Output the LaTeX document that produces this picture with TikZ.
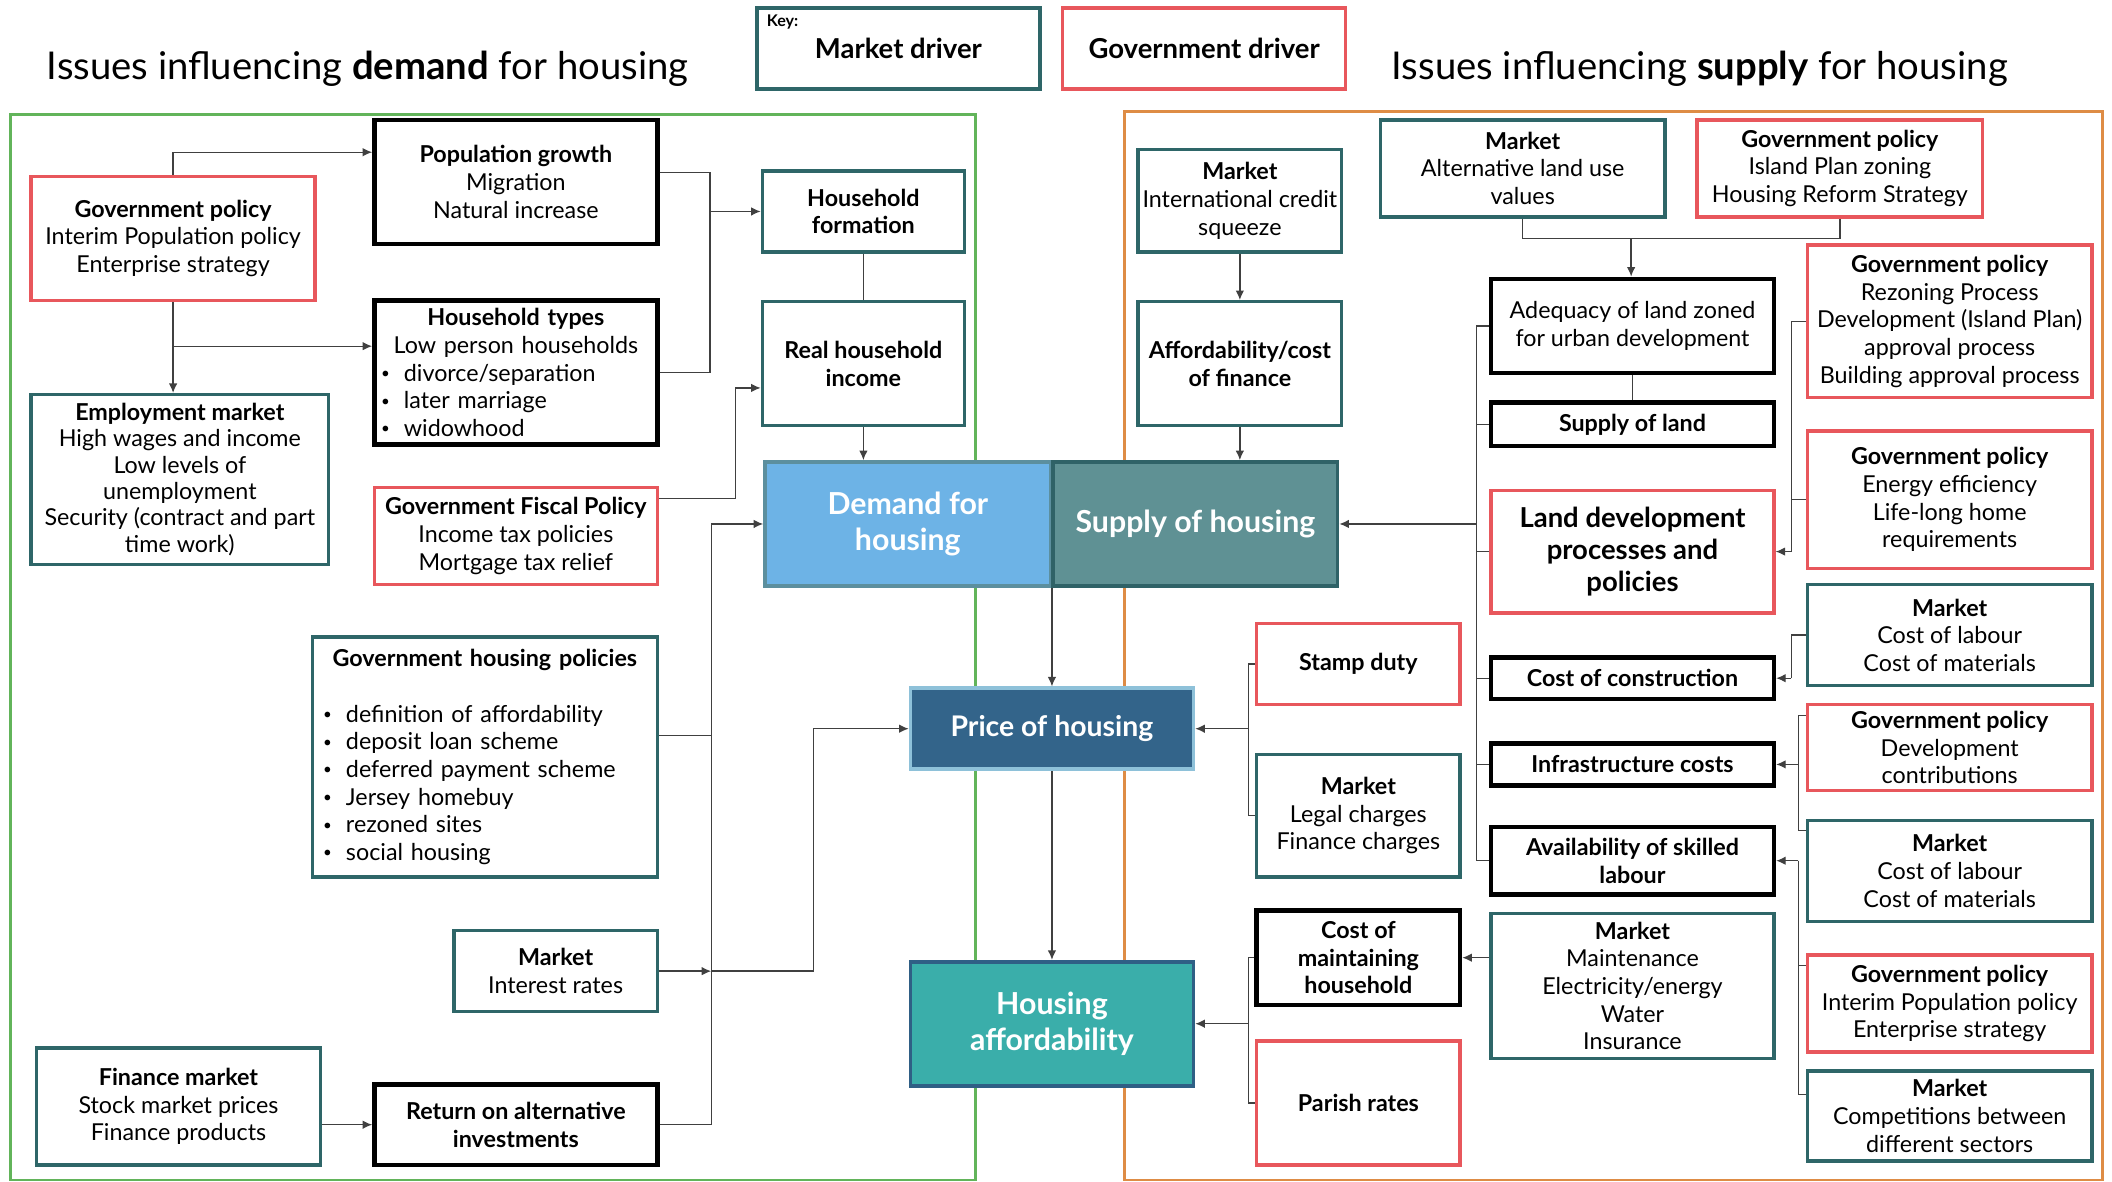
\documentclass[tikz,border=0pt]{standalone}
\usepackage{fontspec}
\setmainfont{Lato}
\usetikzlibrary{arrows.meta}
\definecolor{govred}{HTML}{E8575C}
\definecolor{mktteal}{HTML}{2E6668}
\definecolor{demgreen}{HTML}{62B45A}
\definecolor{suporange}{HTML}{DE8C45}
\definecolor{demfill}{HTML}{6DB3E6}
\definecolor{demline}{HTML}{5C8F9E}
\definecolor{supfill}{HTML}{5F9194}
\definecolor{supline}{HTML}{2F6267}
\definecolor{pricefill}{HTML}{33648A}
\definecolor{priceline}{HTML}{8EC1D9}
\definecolor{afffill}{HTML}{3AAEAA}
\definecolor{affline}{HTML}{2F5F85}
\newcommand{\boxfont}{\fontsize{12.3}{14.6}\selectfont}
\newcommand{\dotitem}{\raisebox{0.2ex}{\fontsize{8}{8}\selectfont\textbullet}\hspace{0.6em}}
\begin{document}
\begin{tikzpicture}[x=0.025cm, y=-0.025cm, >={Latex[length=5pt,width=4.5pt]},
  every node/.style={font=\boxfont, align=center, inner sep=1.5pt},
  dims/.style 2 args={minimum width=#1*0.025cm, minimum height=#2*0.025cm},
  mkt/.style={draw=mktteal, line width=1.8pt},
  gov/.style={draw=govred, line width=1.8pt},
  fac/.style={draw=black, line width=2.4pt},
  heavy/.style={font=\boxfont\bfseries},
  hub/.style={font=\bfseries\fontsize{16}{19}\selectfont, text=white, line width=2pt},
  wire/.style={draw=black!75, line width=0.7pt}]
\useasboundingbox (0,0) rectangle (1568,877);
\draw[demgreen, line width=1.4pt] (8,85) rectangle (724,876);
\draw[suporange, line width=1.4pt] (835,83) rectangle (1561,876);
%% titles and key
\node[font=\fontsize{20.2}{24}\selectfont] (demtitle) at (273,51) {Issues influencing \textbf{demand} for housing};
\node[font=\fontsize{20.2}{24}\selectfont] (suptitle) at (1262,51) {Issues influencing \textbf{supply} for housing};
\node[mkt, dims={210}{60}, font=\bfseries\fontsize{14.5}{17}\selectfont] (keymkt) at (667,36) {Market driver};
\node[font=\bfseries\fontsize{8.5}{10}\selectfont, anchor=north west, inner sep=0pt] (keytag) at (569,11) {Key:};
\node[gov, dims={210}{60}, font=\bfseries\fontsize{14.5}{17}\selectfont] (keygov) at (894,36) {Government driver};
%% demand side
\node[gov, dims={211}{92}] (gp1) at (128.5,177) {\textbf{Government policy}\\Interim Population policy\\Enterprise strategy};
\node[fac, dims={210}{92}] (popg) at (383,135) {\textbf{Population growth}\\Migration\\Natural increase};
\node[fac, dims={210}{107}, text width=5cm, align=left] (hht) at (383,276.5)
  {{\centering\textbf{Household types}\\Low person households\par}
   \dotitem divorce/separation\\
   \dotitem later marriage\\
   \dotitem widowhood};
\node[mkt, dims={221}{126}, font=\fontsize{12.3}{13.9}\selectfont] (emp) at (133.5,356) {\textbf{Employment market}\\High wages and income\\Low levels of\\unemployment\\Security (contract and part\\time work)};
\node[gov, dims={210}{72}] (fisc) at (383,398) {\textbf{Government Fiscal Policy}\\Income tax policies\\Mortgage tax relief};
\node[mkt, dims={256}{178}, text width=6cm, align=left] (ghp) at (360,562)
  {{\centering\textbf{Government housing policies}\par}\vspace{14.6pt}
   \dotitem definition of affordability\\
   \dotitem deposit loan scheme\\
   \dotitem deferred payment scheme\\
   \dotitem Jersey homebuy\\
   \dotitem rezoned sites\\
   \dotitem social housing};
\node[mkt, dims={151}{60}] (mir) at (412.5,721) {\textbf{Market}\\Interest rates};
\node[mkt, dims={211}{87}] (fin) at (132.5,821.5) {\textbf{Finance market}\\Stock market prices\\Finance products};
\node[fac, dims={210}{60}, heavy] (ret) at (383,835) {Return on alternative\\investments};
\node[mkt, dims={150}{60}, heavy] (hhf) at (641,157) {Household\\formation};
\node[mkt, dims={150}{92}, heavy] (rhi) at (641,270) {Real household\\income};
%% centre
\node[hub, fill=demfill, draw=demline, dims={212}{92}] (dem) at (674,389) {Demand for\\housing};
\node[hub, fill=supfill, draw=supline, dims={211}{92}] (sup) at (887.5,389) {Supply of housing};
\node[hub, fill=pricefill, draw=priceline, dims={210}{60}, font=\bfseries\fontsize{15}{18}\selectfont] (price) at (781,541) {Price of housing};
\node[hub, fill=afffill, draw=affline, dims={210}{92}] (aff) at (781,760) {Housing\\affordability};
%% supply side
\node[mkt, dims={151}{76}] (mic) at (920.5,149) {\textbf{Market}\\International credit\\squeeze};
\node[mkt, dims={151}{92}, heavy] (acf) at (920.5,270) {Affordability/cost\\of finance};
\node[mkt, dims={211}{72}] (malu) at (1130.5,125) {\textbf{Market}\\Alternative land use\\values};
\node[gov, dims={212}{72}] (gpip) at (1366,125) {\textbf{Government policy}\\Island Plan zoning\\Housing Reform Strategy};
\node[fac, dims={210}{70}] (adq) at (1212,242) {Adequacy of land zoned\\for urban development};
\node[fac, dims={210}{32}, heavy] (sol) at (1212,315) {Supply of land};
\node[gov, dims={210}{91}, font=\bfseries\fontsize{14.5}{16.8}\selectfont] (ldp) at (1212,409.5) {Land development\\processes and\\policies};
\node[fac, dims={210}{31}, heavy] (coc) at (1212,503.5) {Cost of construction};
\node[fac, dims={210}{31}, heavy] (inf) at (1212,567.5) {Infrastructure costs};
\node[fac, dims={210}{50}, heavy] (asl) at (1212,639) {Availability of skilled\\labour};
\node[mkt, dims={210}{108}] (mmt) at (1212,732) {\textbf{Market}\\Maintenance\\Electricity/energy\\Water\\Insurance};
\node[gov, dims={151}{60}, heavy] (std) at (1008.5,493) {Stamp duty};
\node[mkt, dims={151}{91}] (mlc) at (1008.5,605.5) {\textbf{Market}\\Legal charges\\Finance charges};
\node[fac, dims={151}{70}, heavy] (cmh) at (1008.5,711) {Cost of\\maintaining\\household};
\node[gov, dims={151}{92}, heavy] (par) at (1008.5,819) {Parish rates};
%%
\node[gov, dims={211}{113}] (gpr) at (1447.5,238.5) {\textbf{Government policy}\\Rezoning Process\\Development (Island Plan)\\approval process\\Building approval process};
\node[gov, dims={211}{102}] (gpe) at (1447.5,371) {\textbf{Government policy}\\Energy efficiency\\Life-long home\\requirements};
\node[mkt, dims={211}{75}] (ml1) at (1447.5,471.5) {\textbf{Market}\\Cost of labour\\Cost of materials};
\node[gov, dims={211}{64}] (gpd) at (1447.5,555) {\textbf{Government policy}\\Development\\contributions};
\node[mkt, dims={211}{75}] (ml2) at (1447.5,646.5) {\textbf{Market}\\Cost of labour\\Cost of materials};
\node[gov, dims={211}{72}] (gpi) at (1447.5,745) {\textbf{Government policy}\\Interim Population policy\\Enterprise strategy};
\node[mkt, dims={211}{67}] (mcs) at (1447.5,828.5) {\textbf{Market}\\Competitions between\\different sectors};
%% demand side links
\draw[wire,->] (gp1.north) |- ([yshift=0.55cm]popg.west);
\draw[wire,->] (gp1.south) -- (gp1.south |- emp.north);
\coordinate (gpfork) at (128.5,257);
\draw[wire,->] (gpfork) -- (gpfork -| hht.west);
\coordinate (hhbus) at (527,157);
\draw[wire] ([yshift=0.175cm]popg.east) -| (hhbus) |- (hht.east);
\draw[wire,->] (hhbus) -- (hhf.west);
\draw[wire] (hhf) -- (rhi);
\draw[wire,->] (rhi.south) -- (rhi.south |- dem.north);
\coordinate (fiscbend) at (546,370);
\draw[wire,->] (fiscbend -| fisc.east) -- (fiscbend) |- ([yshift=-0.45cm]rhi.west);
\coordinate (dembus) at (528,389);
\draw[wire,->] (ret.east) -| (dembus) -- (dem.west);
\draw[wire] ([yshift=0.4cm]ghp.east) -- ([yshift=0.4cm]ghp.east -| dembus);
\draw[wire,->] (mir.east) -- (mir.east -| dembus);
\coordinate (pricebend) at (604,721);
\draw[wire,->] (mir.east -| dembus) -- (pricebend) |- (price.west);
\draw[wire,->] (ret.west -| fin.east) -- (ret.west);
\draw[wire,->] (price.north |- dem.south) -- (price.north);
\draw[wire,->] (price) -- (aff);
%% supply side links
\draw[wire,->] (mic) -- (acf);
\draw[wire,->] (acf.south) -- (acf.south |- sup.north);
\coordinate (landfork) at (1211,177);
\draw[wire] (malu.south) |- (landfork) -| (gpip.south);
\draw[wire,->] (landfork) -- (landfork |- adq.north);
\draw[wire] (adq) -- (sol);
\coordinate (supbus) at (1096,389);
\draw[wire] (adq.west) -| (supbus) |- (asl.west);
\draw[wire] (sol.west) -- (sol.west -| supbus);
\draw[wire] (ldp.west) -- (ldp.west -| supbus);
\draw[wire] (coc.west) -- (coc.west -| supbus);
\draw[wire] (inf.west) -- (inf.west -| supbus);
\draw[wire,->] (supbus) -- (sup.east);
\coordinate (pricebus) at (927,541);
\draw[wire] (std.west) -| (pricebus) |- (mlc.west);
\draw[wire,->] (pricebus) -- (price.east);
\coordinate (affbus) at (927,760);
\draw[wire] (cmh.west) -| (affbus) |- (par.west);
\draw[wire,->] (affbus) -- (aff.east);
\draw[wire,->] (cmh.east -| mmt.west) -- (cmh.east);
%%
\coordinate (ldpbus) at (1330,409.5);
\draw[wire] (gpr.west) -| (ldpbus);
\draw[wire] (gpe.west) -| (ldpbus);
\draw[wire,->] (ldpbus) -- (ldp.east);
\coordinate (cocbus) at (1330,503.5);
\draw[wire] (ml1.west) -| (cocbus);
\draw[wire,->] (cocbus) -- (coc.east);
\coordinate (infbus) at (1335,567.5);
\draw[wire] ([yshift=0.6cm]gpd.west) -| (infbus) |- ([yshift=0.75cm]ml2.west);
\draw[wire,->] (infbus) -- (inf.east);
\coordinate (aslbus) at (1335,639);
\draw[wire] (aslbus) |- ([yshift=0.7cm]gpi.west);
\draw[wire] (aslbus) |- ([yshift=0.4cm]mcs.west);
\draw[wire,->] (aslbus) -- (asl.east);
\end{tikzpicture}
\end{document}
